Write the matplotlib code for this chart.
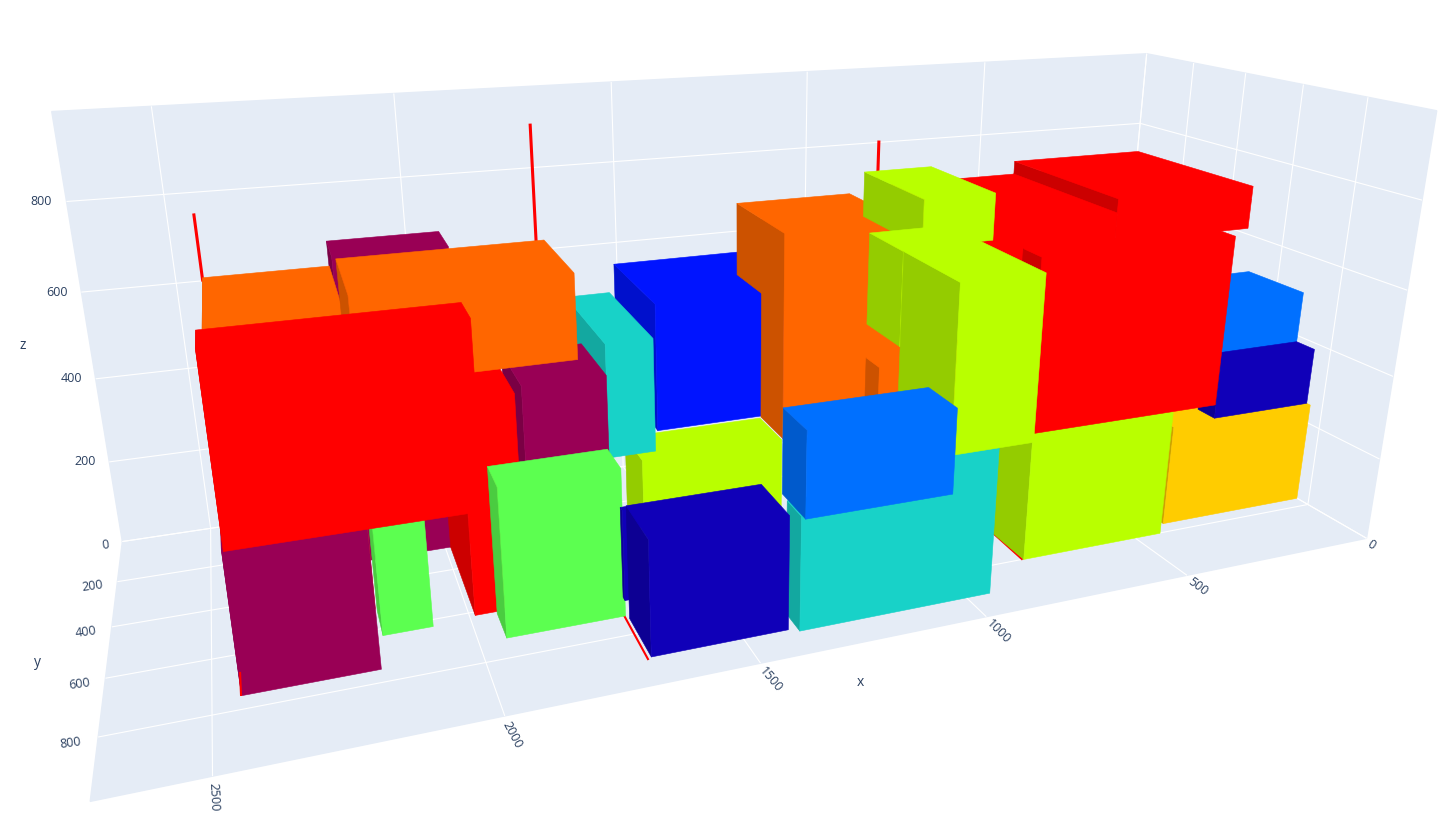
import numpy as np
import matplotlib
matplotlib.use('Agg')
import matplotlib.pyplot as plt
from matplotlib.colors import to_rgb
from mpl_toolkits.mplot3d.art3d import Poly3DCollection

red = '#FF0000'
orange = '#FF6600'
lime = '#B9FF00'
green = '#5CFF50'
teal = '#18D2C8'
blue = '#0014FF'
navy = '#1000B8'
azure = '#0070FF'
yellow = '#FFCC00'
maroon = '#990055'

# boxes, listed back to front in the order they have to be painted
colors = [maroon, orange, green, maroon, blue, lime, teal, maroon, red, orange, red, green,
          azure, yellow, navy, lime, teal, teal, navy, navy,
          red, red, red, red, orange, orange, orange, lime, lime, lime, azure]
x0 = [1945, 2180, 2077, 2194, 1212, 1285, 1595, 1695, 1881, 1720, 1978, 1698,
      0, 0, 0, 431, 944, 944, 1645, 1403,
      221, 221, 577, 316, 993, 996, 1020, 762, 793, 793, 1055]
x1 = [2184, 2443, 2177, 2449, 1530, 1606, 1695, 1868, 1989, 2171, 2446, 1945,
      294, 393, 270, 796, 1383, 1172, 1682, 1693,
      577, 577, 958, 806, 1280, 1280, 1045, 941, 996, 995, 1380]
y0 = [150, 80, 521, 450, 81, 420, 280, 412, 289, 196, 648, 620,
      495, 400, 688, 665, 830, 830, 647, 736,
      298, 298, 299, 726, 414, 255, 474, 219, 371, 544, 796]
y1 = [289, 511, 626, 751, 420, 556, 620, 620, 612, 480, 751, 723,
      688, 760, 748, 799, 905, 905, 662, 892,
      726, 726, 726, 799, 549, 549, 544, 527, 544, 799, 919]
z0 = [0, 0, 0, 0, 272, 0, 314, 0, 0, 486, 301, 0,
      382, 0, 247, 0, 0, 258, 0, 0,
      696, 762, 306, 306, 267, 566, 274, 669, 447, 285, 258]
z1 = [705, 630, 350, 306, 570, 267, 563, 496, 479, 676, 690, 334,
      509, 247, 385, 303, 258, 404, 211, 257,
      762, 793, 762, 704, 736, 737, 403, 778, 669, 669, 447]

# thin red uprights behind the boxes
spike_x = [2435, 1758, 944]
spike_y = [300, 300, 300]
spike_z0 = [684, 705, 738]
spike_z1 = [818, 954, 864]

# thin red strips on the floor
strip_x0 = [1700, 795, 2449]
strip_x1 = [1701, 799, 2449]
strip_y0 = [721, 664, 671]
strip_y1 = [899, 798, 750]

x_ticks = [0, 500, 1000, 1500, 2000, 2500]
y_ticks = [0, 200, 400, 600, 800]
z_ticks = [0, 200, 400, 600, 800]
z_tick_labels = ['', '200', '400', '600', '800']
x_label_angles = [-32, -37, -45, -50, -62, -87]

x_max, y_max, z_max = 2690, 990, 990

plt.rcParams['font.family'] = ['Open Sans', 'DejaVu Sans']
plt.rcParams['grid.color'] = 'white'
plt.rcParams['grid.linewidth'] = 0.8

fig = plt.figure(figsize=(14.51, 8.13), dpi=100)
ax = fig.add_subplot(projection='3d', computed_zorder=False)
ax.view_init(18.906, 69.463, -0.033)
ax.set_proj_type('persp', focal_length=0.1878)
ax.set_box_aspect((1, 0.3668, 0.3672))
ax.set_position([55.2 / 1451, -215.2 / 813, 1346 / 1451, 1346 / 813])
ax.patch.set_alpha(0)


def draw_box(i):
    left, right = x0[i], x1[i]
    back, front = y0[i], y1[i]
    low, high = z0[i], z1[i]
    side = [(right, back, low), (right, front, low), (right, front, high), (right, back, high)]
    # top and front share one colour, so they go in as one outline
    rest = [(right, front, low), (left, front, low), (left, front, high),
            (left, back, high), (right, back, high), (right, front, high)]
    base = np.array(to_rgb(colors[i]))
    for face, shade in ((side, 0.8), (rest, 1)):
        c = tuple(base * shade)
        ax.add_collection3d(Poly3DCollection([face], facecolors=[c], edgecolors=[c],
                                             linewidths=0.4, zorder=i + 2), autolim=False)


for k in range(len(spike_x)):
    ax.plot([spike_x[k]] * 2, [spike_y[k]] * 2, [spike_z0[k], spike_z1[k]], color='red', lw=2.2, zorder=1)

for i in range(len(colors)):
    draw_box(i)

for k in range(len(strip_x0)):
    ax.plot([strip_x0[k], strip_x1[k]], [strip_y0[k], strip_y1[k]], [0, 0], color='red', lw=1.5, zorder=6)

ax.set_xlim(0, x_max, view_margin=0)
ax.set_ylim(0, y_max, view_margin=0)
ax.set_zlim(0, z_max, view_margin=0)
ax.set_xticks(x_ticks)
ax.set_yticks(y_ticks)
ax.set_zticks(z_ticks)
ax.set_zticklabels(z_tick_labels)

for axis in (ax.xaxis, ax.yaxis, ax.zaxis):
    axis.set_pane_color('#E5ECF6')
    axis.pane.set_edgecolor('#E5ECF6')
    axis.line.set_linewidth(0)
    axis._axinfo['tick']['inward_factor'] = 0
    axis._axinfo['tick']['outward_factor'] = 0

ax.tick_params(labelsize=9, colors='#2a3f5f')
ax.tick_params(axis='x', pad=-4)
ax.tick_params(axis='y', pad=-2.7)
ax.tick_params(axis='z', pad=1.4)
for t, angle in zip(ax.get_xticklabels(), x_label_angles):
    t.set_rotation(angle)
    t.set_rotation_mode('anchor')
    t.set_ha('left')
    t.set_va('center')
for t in ax.get_yticklabels():
    t.set_rotation(8)
    t.set_rotation_mode('anchor')
    t.set_ha('right')
    t.set_va('baseline')
for t in ax.get_zticklabels():
    t.set_va('center')

fig.text(860 / 1451, 1 - 682 / 813, 'x', color='#2a3f5f', fontsize=10, ha='center', va='center')
fig.text(37 / 1451, 1 - 662 / 813, 'y', color='#2a3f5f', fontsize=10, ha='center', va='center')
fig.text(23 / 1451, 1 - 345 / 813, 'z', color='#2a3f5f', fontsize=10, ha='center', va='center')

fig.savefig('out.png', dpi=100)
